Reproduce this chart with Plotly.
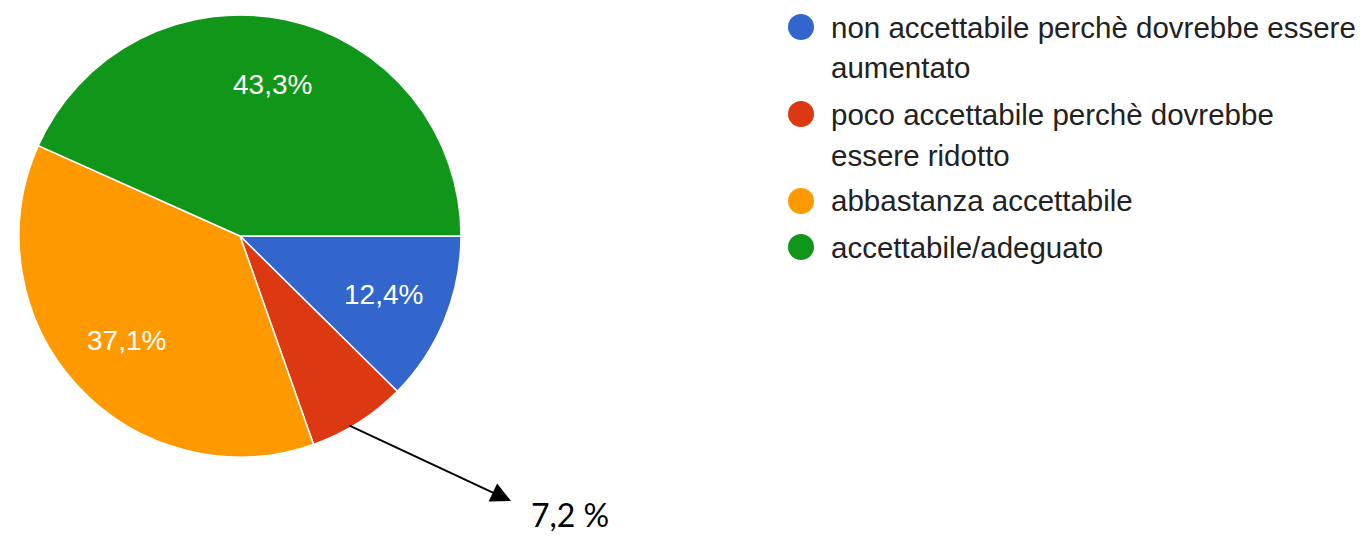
import math
import plotly.graph_objects as go

# ---- data ----
categories = [
    "non accettabile perchè dovrebbe essere aumentato",
    "poco accettabile perchè dovrebbe essere ridotto",
    "abbastanza accettabile",
    "accettabile/adeguato",
]
legend_lines = [
    ["non accettabile perchè dovrebbe essere", "aumentato"],
    ["poco accettabile perchè dovrebbe", "essere ridotto"],
    ["abbastanza accettabile"],
    ["accettabile/adeguato"],
]
values = [12.4, 7.2, 37.1, 43.3]
slice_labels = ["12,4%", "", "37,1%", "43,3%"]
callout_label = "7,2 %"
colors = ["#3366CC", "#DC3912", "#FF9900", "#109618"]

# page has an 8px body margin: compensate
OFF = 8
W, H = 1368 - OFF, 537 - OFF

def px(x):
    return (x - OFF) / W

def py(y):
    return 1 - (y - OFF) / H

# pie geometry (reference pixels)
CX, CY, R = 240, 236, 221

fig = go.Figure()
fig.add_trace(go.Pie(
    labels=categories,
    values=values,
    textinfo="none",
    marker=dict(colors=colors, line=dict(color="white", width=1.5)),
    sort=False,
    direction="clockwise",
    rotation=90,
    showlegend=False,
    hoverinfo="label+percent",
    domain=dict(x=[px(CX - R), px(CX + R)], y=[py(CY + R), py(CY - R)]),
))

annotations = []
shapes = []

# slice labels placed at each slice's mid-angle (clockwise from 3 o'clock)
total = sum(values)
cum = 0.0
for v, lab in zip(values, slice_labels):
    mid = (cum + v / 2) / total * 2 * math.pi
    cum += v
    if not lab:
        continue
    rr = 0.7 * R
    lx = CX + rr * math.cos(mid)
    ly = CY + rr * math.sin(mid)
    annotations.append(dict(text=lab, xref="paper", yref="paper",
                            x=px(lx), y=py(ly), xanchor="center", yanchor="middle",
                            showarrow=False,
                            font=dict(family="Liberation Sans, Arial, sans-serif", size=28, color="white")))

# ---- custom legend (circles + text) ----
line_gap = 41
entry_gap = 46
y = 27
for i, lines in enumerate(legend_lines):
    r = 13
    cx = 801
    shapes.append(dict(type="circle", xref="paper", yref="paper",
                       x0=px(cx - r), x1=px(cx + r), y0=py(y + r), y1=py(y - r),
                       fillcolor=colors[i], line=dict(width=0)))
    for j, t in enumerate(lines):
        annotations.append(dict(text=t, xref="paper", yref="paper",
                                x=px(829), y=py(y + j * line_gap),
                                xanchor="left", yanchor="middle", showarrow=False,
                                font=dict(family="Liberation Sans, Arial, sans-serif", size=29.5, color="#222222")))
    y += (len(lines) - 1) * line_gap + entry_gap

# ---- callout arrow for the small slice ----
annotations.append(dict(text="", xref="paper", yref="paper",
                        x=px(511), y=py(501), ax=-163, ay=-76,
                        showarrow=True, arrowhead=2, arrowsize=2, arrowwidth=2,
                        arrowcolor="black"))
annotations.append(dict(text=callout_label, xref="paper", yref="paper",
                        x=px(570), y=py(514), xanchor="center", yanchor="middle",
                        showarrow=False, borderpad=0,
                        font=dict(family="Lato, Open Sans, sans-serif", size=32, color="black")))

fig.update_layout(
    width=W, height=H,
    margin=dict(l=0, r=0, t=0, b=0),
    paper_bgcolor="white",
    plot_bgcolor="white",
    shapes=shapes,
    annotations=annotations,
)

fig.write_html("out.html")
